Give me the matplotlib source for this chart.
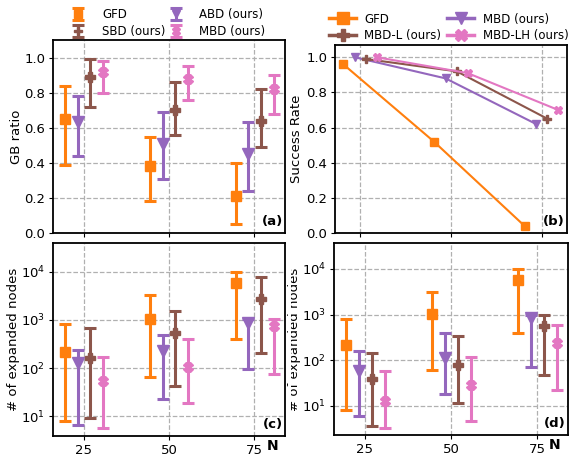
import numpy as np
import matplotlib
matplotlib.use("Agg")
import matplotlib.pyplot as plt
from matplotlib.patches import Rectangle

N = [25, 50, 75]

# (a) GB ratio: center, low, high
gb_gfd = [0.65, 0.38, 0.21]
gb_gfd_lo = [0.39, 0.18, 0.05]
gb_gfd_hi = [0.84, 0.55, 0.40]
gb_abd = [0.63, 0.51, 0.45]
gb_abd_lo = [0.44, 0.31, 0.24]
gb_abd_hi = [0.78, 0.69, 0.63]
gb_sbd = [0.89, 0.70, 0.64]
gb_sbd_lo = [0.72, 0.56, 0.49]
gb_sbd_hi = [0.99, 0.86, 0.82]
gb_mbd = [0.92, 0.88, 0.82]
gb_mbd_lo = [0.80, 0.76, 0.68]
gb_mbd_hi = [0.98, 0.95, 0.90]

# (b) success rate
sr_gfd = [0.96, 0.52, 0.04]
sr_mbd = [1.00, 0.88, 0.62]
sr_mbdl = [0.99, 0.92, 0.65]
sr_mbdlh = [1.00, 0.91, 0.70]

# (c) expanded nodes
c_gfd = [215, 1060, 5750]
c_gfd_lo = [8.1, 64, 405]
c_gfd_hi = [824, 3300, 9700]
c_abd = [130, 225, 860]
c_abd_lo = [6.7, 22.8, 97]
c_abd_hi = [233, 473, 1046]
c_sbd = [164, 537, 2740]
c_sbd_lo = [9.1, 41.5, 208]
c_sbd_hi = [660, 1500, 7520]
c_mbd = [54, 107, 736]
c_mbd_lo = [5.8, 18.5, 74]
c_mbd_hi = [170, 405, 1060]

# (d) expanded nodes
d_gfd = [216, 1040, 5830]
d_gfd_lo = [8.0, 61, 390]
d_gfd_hi = [807, 3150, 10000]
d_mbd = [58, 114, 833]
d_mbd_lo = [5.9, 17.8, 72]
d_mbd_hi = [162, 390, 1000]
d_mbdl = [38.5, 78, 575]
d_mbdl_lo = [3.6, 11.6, 47]
d_mbdl_hi = [142, 341, 970]
d_mbdlh = [12.8, 28.5, 243]
d_mbdlh_lo = [3.2, 4.7, 22]
d_mbdlh_hi = [58, 120, 596]

ORANGE = "#ff7f0e"
PURPLE = "#9467bd"
BROWN = "#8c564b"
PINK = "#e377c2"

plt.rcParams["font.family"] = "DejaVu Sans"
plt.rcParams["font.size"] = 9.5

W, H = 572, 458
fig = plt.figure(figsize=(W / 100, H / 100), dpi=100)


def px_axes(x0, y0, x1, y1):
    # axes from pixel box (top-left origin)
    return fig.add_axes([x0 / W, 1 - y1 / H, (x1 - x0) / W, (y1 - y0) / H])


ax_a = px_axes(53, 40, 285, 233)
ax_c = px_axes(53, 243, 285, 436)
ax_b = px_axes(335, 45, 567, 233)
ax_d = px_axes(334, 243, 568, 435)

offsets = [-5.5, -1.8, 1.9, 5.7]


def err_plot(ax, k, y, lo, hi, color, marker, label, ms):
    x = np.array(N) + offsets[k]
    y = np.array(y)
    yerr = [y - np.array(lo), np.array(hi) - y]
    return ax.errorbar(x, y, yerr=yerr, fmt=marker, color=color, ms=ms,
                       elinewidth=2.2, capsize=4, capthick=2.2, label=label)


def style(ax):
    ax.grid(True, which="major", linestyle="--", color="#b0b0b0", linewidth=0.9)
    ax.set_axisbelow(True)
    ax.set_xticks(N)
    for s in ax.spines.values():
        s.set_linewidth(1.3)
    ax.tick_params(which="major", labelsize=9.5, length=3, pad=2.5)
    ax.tick_params(which="minor", length=0)


def panel_tag(ax, tag):
    ax.text(0.99, 0.025, tag, transform=ax.transAxes, ha="right", va="bottom",
            fontweight="bold", fontsize=9.5)


# (a)
h1 = err_plot(ax_a, 0, gb_gfd, gb_gfd_lo, gb_gfd_hi, ORANGE, "s", "GFD", 7)
h2 = err_plot(ax_a, 1, gb_abd, gb_abd_lo, gb_abd_hi, PURPLE, "v", "ABD (ours)", 8)
h3 = err_plot(ax_a, 2, gb_sbd, gb_sbd_lo, gb_sbd_hi, BROWN, "P", "SBD (ours)", 7)
h4 = err_plot(ax_a, 3, gb_mbd, gb_mbd_lo, gb_mbd_hi, PINK, "X", "MBD (ours)", 7)
style(ax_a)
ax_a.set_xlim(16, 84)
ax_a.set_ylim(0, 1.1)
ax_a.set_yticks([0.0, 0.2, 0.4, 0.6, 0.8, 1.0])
ax_a.set_xticklabels([])
ax_a.set_ylabel("GB ratio", fontsize=9.5)
ax_a.yaxis.set_label_coords((23 - 53) / 232, 0.5)
panel_tag(ax_a, "(a)")
ax_a.legend(handles=[h1, h3, h2, h4], ncol=2, loc="lower center",
            bbox_to_anchor=(0.5, 1.0), frameon=False, fontsize=8.5,
            columnspacing=0.4, handletextpad=1.5, labelspacing=0.35,
            handlelength=1.0, borderpad=0.15, borderaxespad=0.0, markerscale=0.8)

# (b)
b_off = [-4.7, -1.5, 1.6, 4.6]
xb = np.array(N, dtype=float)
lb1, = ax_b.plot(xb + b_off[0], sr_gfd, "-s", color=ORANGE, ms=5.5, lw=1.5, label="GFD")
lb2, = ax_b.plot(xb + b_off[1], sr_mbd, "-v", color=PURPLE, ms=6, lw=1.5, label="MBD (ours)")
lb3, = ax_b.plot(xb + b_off[2], sr_mbdl, "-P", color=BROWN, ms=5.5, lw=1.5, label="MBD-L (ours)")
lb4, = ax_b.plot(xb + b_off[3], sr_mbdlh, "-X", color=PINK, ms=5.5, lw=1.5, label="MBD-LH (ours)")
style(ax_b)
ax_b.set_xlim(18, 82)
ax_b.set_ylim(0, 1.07)
ax_b.set_yticks([0.0, 0.2, 0.4, 0.6, 0.8, 1.0])
ax_b.set_xticklabels([])
ax_b.set_ylabel("Success Rate", fontsize=9.5)
ax_b.yaxis.set_label_coords((303 - 335) / 232, 0.5)
panel_tag(ax_b, "(b)")
leg = ax_b.legend(handles=[lb1, lb3, lb2, lb4], ncol=2, loc="lower center",
                  bbox_to_anchor=(0.49, 1.0), frameon=False, fontsize=8.5,
                  columnspacing=0.5, handletextpad=0.7, labelspacing=0.3,
                  handlelength=2.3, borderpad=0.15, borderaxespad=0.1,
                  markerscale=1.5)
for ln in leg.get_lines():
    ln.set_linewidth(2.5)

# (c)
err_plot(ax_c, 0, c_gfd, c_gfd_lo, c_gfd_hi, ORANGE, "s", "GFD", 7)
err_plot(ax_c, 1, c_abd, c_abd_lo, c_abd_hi, PURPLE, "v", "ABD (ours)", 8)
err_plot(ax_c, 2, c_sbd, c_sbd_lo, c_sbd_hi, BROWN, "P", "SBD (ours)", 7)
err_plot(ax_c, 3, c_mbd, c_mbd_lo, c_mbd_hi, PINK, "X", "MBD (ours)", 7)
ax_c.set_yscale("log")
style(ax_c)
ax_c.set_xlim(16, 84)
ax_c.set_ylim(3.9, 3.9e4)
ax_c.set_xticklabels(["25", "50", "75"])
ax_c.set_ylabel("# of expanded nodes", fontsize=9.5)
ax_c.yaxis.set_label_coords((20 - 53) / 232, 0.5)
panel_tag(ax_c, "(c)")
ax_c.text(0.947, -0.015, "N", transform=ax_c.transAxes, ha="center", va="top",
          fontweight="bold", fontsize=10)

# (d)
err_plot(ax_d, 0, d_gfd, d_gfd_lo, d_gfd_hi, ORANGE, "s", "GFD", 7)
err_plot(ax_d, 1, d_mbd, d_mbd_lo, d_mbd_hi, PURPLE, "v", "MBD (ours)", 8)
err_plot(ax_d, 2, d_mbdl, d_mbdl_lo, d_mbdl_hi, BROWN, "P", "MBD-L (ours)", 7)
err_plot(ax_d, 3, d_mbdlh, d_mbdlh_lo, d_mbdlh_hi, PINK, "X", "MBD-LH (ours)", 7)
ax_d.set_yscale("log")
style(ax_d)
ax_d.set_xlim(16, 84)
ax_d.set_ylim(2.3, 3.7e4)
ax_d.set_xticklabels(["25", "50", "75"])
ax_d.set_ylabel("# of expanded nodes", fontsize=9.5)
ax_d.yaxis.set_label_coords((301 - 334) / 234, 0.5)
panel_tag(ax_d, "(d)")
ax_d.text(0.944, -0.015, "N", transform=ax_d.transAxes, ha="center", va="top",
          fontweight="bold", fontsize=10)

# the right half was cropped in the source image: the (d) label is clipped
fig.patches.append(Rectangle((287.5 / W, 0), 3.0 / W, 0.47, transform=fig.transFigure,
                             facecolor="white", edgecolor="none", zorder=10))

fig.savefig("out.png", dpi=100)
